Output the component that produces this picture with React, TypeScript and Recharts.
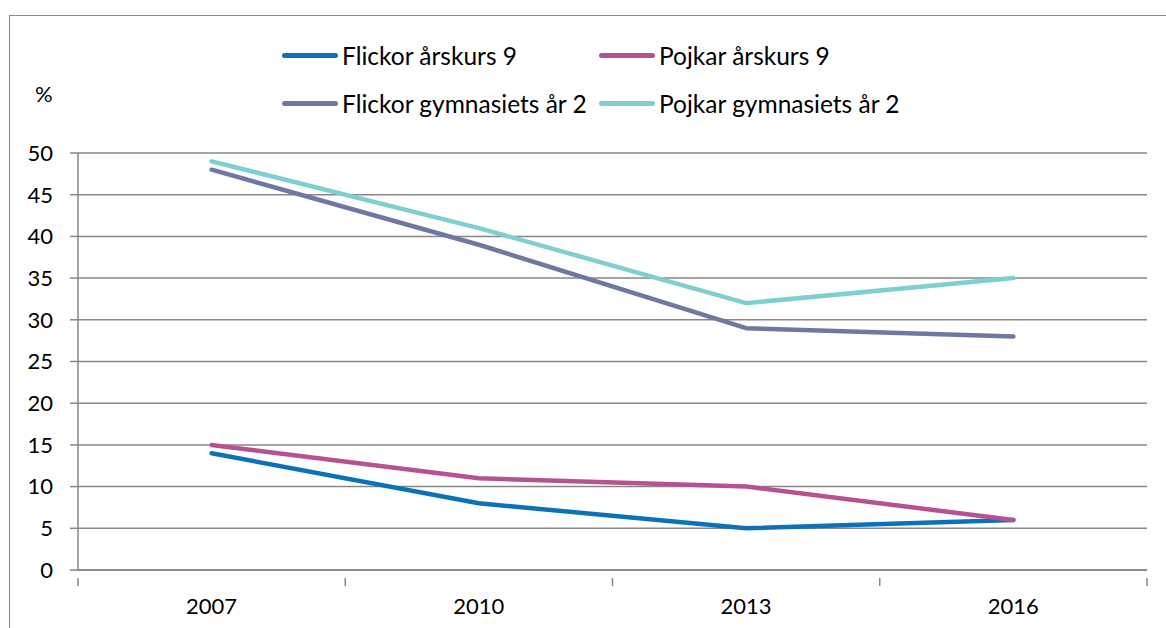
import { LineChart, Line, XAxis, YAxis, CartesianGrid } from "recharts";

const years = ["2007", "2010", "2013", "2016"];
const flickorAk9 = [14, 8, 5, 6];
const pojkarAk9 = [15, 11, 10, 6];
const flickorGy2 = [48, 39, 29, 28];
const pojkarGy2 = [49, 41, 32, 35];
const yTicks = [0, 5, 10, 15, 20, 25, 30, 35, 40, 45, 50];

const SERIES = [
    { key: "fAk9", name: "Flickor årskurs 9", color: "#0B72BA" },
    { key: "pAk9", name: "Pojkar årskurs 9", color: "#B5528F" },
    { key: "fGy2", name: "Flickor gymnasiets år 2", color: "#6E78A3" },
    { key: "pGy2", name: "Pojkar gymnasiets år 2", color: "#80CFCF" },
];

// x is a band position: points in the middle, ticks on the boundaries
const data = years.map((year, i) => ({
    x: i + 0.5,
    year,
    fAk9: flickorAk9[i],
    pAk9: pojkarAk9[i],
    fGy2: flickorGy2[i],
    pGy2: pojkarGy2[i],
}));

const FONT = "Lato, 'Noto Sans', sans-serif";
const AXIS = "#878787";

const XTick = (props: any) => {
    const { x, y, payload } = props;
    const v = payload.value;
    if (Number.isInteger(v)) {
        return <line x1={x} y1={y} x2={x} y2={y + 8} stroke={AXIS} strokeWidth={1.5} />;
    }
    const label = years[Math.floor(v)];
    return (
        <text x={x} y={y + 36} textAnchor="middle" fontSize={22} fill="#000" fontFamily={FONT}>
            {label}
        </text>
    );
};

export default function App() {
    const legendRows = [
        [SERIES[0], SERIES[1]],
        [SERIES[2], SERIES[3]],
    ];
    return (
        <div style={{ position: "absolute", left: 0, top: 0, width: 1166, height: 628, overflow: "hidden", background: "#fff" }}>
            <div style={{ position: "absolute", left: 9, top: 15, width: 1200, height: 700, border: "1.5px solid #888", boxSizing: "border-box" }} />
            <LineChart
                width={1166}
                height={628}
                data={data}
                margin={{ top: 153, right: 19, bottom: 0, left: 0 }}
                style={{ position: "absolute", left: 0, top: 0 }}
            >
                <CartesianGrid horizontal vertical={false} stroke={AXIS} strokeWidth={1.5} />
                <XAxis
                    dataKey="x"
                    type="number"
                    domain={[0, 4]}
                    ticks={[0, 0.5, 1, 1.5, 2, 2.5, 3, 3.5, 4]}
                    interval={0}
                    height={58}
                    tickLine={false}
                    axisLine={{ stroke: AXIS, strokeWidth: 1.5 }}
                    tick={<XTick />}
                />
                <YAxis
                    domain={[0, 50]}
                    ticks={yTicks}
                    interval={0}
                    width={78}
                    tickSize={8}
                    tickMargin={17}
                    axisLine={{ stroke: AXIS, strokeWidth: 1.5 }}
                    tickLine={{ stroke: AXIS, strokeWidth: 1.5 }}
                    tick={{ fontSize: 22, fill: "#000", fontFamily: FONT }}
                />
                {SERIES.map((s) => (
                    <Line
                        key={s.key}
                        dataKey={s.key}
                        name={s.name}
                        stroke={s.color}
                        strokeWidth={4.5}
                        strokeLinecap="round"
                        strokeLinejoin="round"
                        dot={false}
                        activeDot={false}
                        isAnimationActive={false}
                    />
                ))}
            </LineChart>
            <div style={{ position: "absolute", left: 35, top: 80, fontSize: 22, fontFamily: FONT }}>%</div>
            {legendRows.map((row, r) =>
                row.map((s, c) => (
                    <div
                        key={s.key}
                        style={{
                            position: "absolute",
                            left: c === 0 ? 282 : 599,
                            top: r === 0 ? 41 : 89,
                            height: 28,
                            display: "flex",
                            alignItems: "center",
                            fontSize: 24.5,
                            fontFamily: FONT,
                            whiteSpace: "nowrap",
                        }}
                    >
                        <span style={{ display: "inline-block", width: 56, height: 5, borderRadius: 3, background: s.color, marginRight: 4 }} />
                        {s.name}
                    </div>
                ))
            )}
        </div>
    );
}
